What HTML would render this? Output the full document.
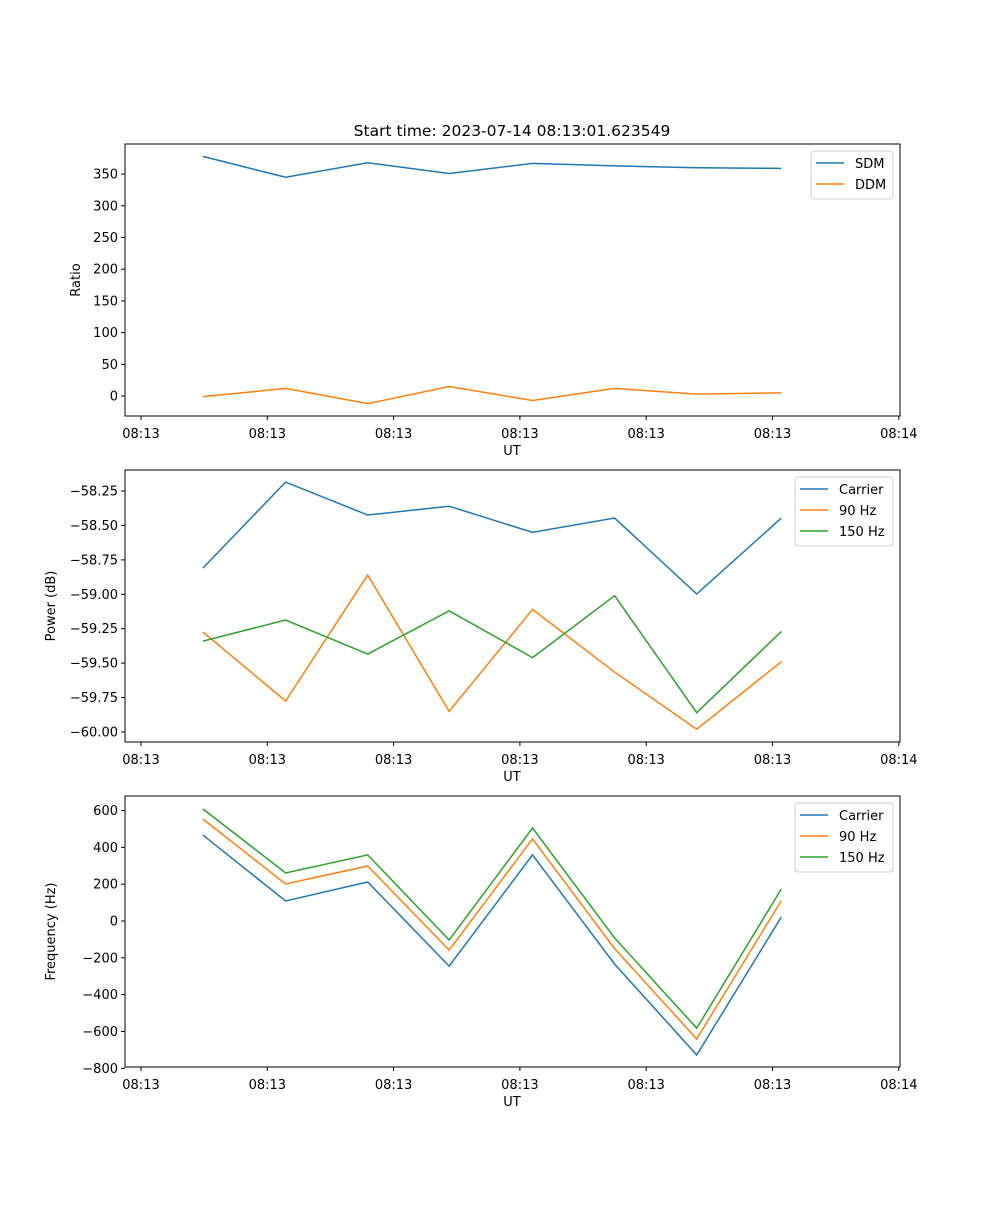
<!DOCTYPE html>
<html><head><meta charset="utf-8"><style>
body{margin:0;background:#fff}
svg text{font-family:"DejaVu Sans","Liberation Sans",sans-serif;font-size:13px;fill:#000}
</style></head><body>
<svg id="c" width="1000" height="1200" xmlns="http://www.w3.org/2000/svg">
<text x="512" y="136" text-anchor="middle" style="font-size:15.5px">Start time: 2023-07-14 08:13:01.623549</text>
</svg>
<script>
const times=[0.49,1.145,1.795,2.44,3.10,3.75,4.40,5.07];
const xTickLabels=["08:13","08:13","08:13","08:13","08:13","08:13","08:14"];
const sdm=[378,345,368,351,367,363,360,359];
const ddm=[-1,12,-12,15,-7,12,3,5];
const pCarrier=[-58.81,-58.185,-58.424,-58.36,-58.55,-58.446,-58.998,-58.446];
const p90=[-59.274,-59.775,-58.86,-59.85,-59.11,-59.565,-59.98,-59.49];
const p150=[-59.34,-59.187,-59.434,-59.12,-59.46,-59.01,-59.86,-59.27];
const fCarrier=[467,109,212,-245,359,-234,-728,22];
const f90=[554,201,299,-158,446,-150,-641,110];
const f150=[609,261,359,-103,505,-92,-582,174];
const ticks1=[0,50,100,150,200,250,300,350];
const ticks2=[-58.25,-58.5,-58.75,-59,-59.25,-59.5,-59.75,-60];
const ticks3=[600,400,200,0,-200,-400,-600,-800];
const svg=document.getElementById('c');
const NS='http://www.w3.org/2000/svg';
function mk(t,a){const e=document.createElementNS(NS,t);for(const k in a)e.setAttribute(k,a[k]);svg.appendChild(e);return e;}
const L=125,R=900;
function xs(t){return 141+t*126.3;}
function panel(top,bot,ymin,ymax,ticks,fmt,ylabel,series,legW,name){
  const ys=v=>bot-(v-ymin)/(ymax-ymin)*(bot-top);
  const g=mk('rect',{x:L,y:top,width:R-L,height:bot-top,fill:'none',stroke:'#000','stroke-width':1});
  
  
  xTickLabels.forEach((lb,i)=>{const x=xs(i);
    const l=mk('line',{x1:x,x2:x,y1:bot,y2:bot+4,stroke:'#000'});
    
    
    const t=mk('text',{x:x,y:bot+22,'text-anchor':'middle'});t.textContent=lb;
    
    });
  const xt=mk('text',{x:512,y:bot+39,'text-anchor':'middle'});xt.textContent='UT';
  
  
  ticks.forEach(v=>{const y=ys(v);
    const l=mk('line',{x1:L-4,x2:L,y1:y,y2:y,stroke:'#000'});
    
    
    const t=mk('text',{x:L-7,y:y+4.5,'text-anchor':'end'});t.textContent=fmt(v).replace('-','\u2212');
    
    });
  const yx=L-(ylabel==='Ratio'?45:70),yy=(top+bot)/2;
  const yt=mk('text',{x:yx,y:yy,'text-anchor':'middle',transform:`rotate(-90 ${yx} ${yy})`});yt.textContent=ylabel;
  
  
  series.forEach(s=>{
    const p=mk('polyline',{points:times.map((t,i)=>xs(t)+','+ys(s.v[i])).join(' '),fill:'none',stroke:s.c,'stroke-width':1.5});
    
    });
  const lx=R-7-legW,ly=top+7,lh=6+series.length*21;
  const lb=mk('rect',{x:lx,y:ly,width:legW,height:lh,rx:3,fill:'#fff','fill-opacity':0.8,stroke:'#ccc'});
  
  
  series.forEach((s,i)=>{const y=ly+12+i*21;
    const l=mk('line',{x1:lx+5,x2:lx+33,y1:y,y2:y,stroke:s.c,'stroke-width':1.5});
    
    
    const t=mk('text',{x:lx+44,y:y+5});t.textContent=s.n;
    
    });
}
const B='#1f77b4',O='#ff7f0e',G='#2ca02c';
panel(144,416,-31.5,397.5,ticks1,v=>String(v),'Ratio',[{n:'SDM',v:sdm,c:B},{n:'DDM',v:ddm,c:O}],82,'ratio-panel');
panel(470,742,-60.073,-58.097,ticks2,v=>v.toFixed(2),'Power (dB)',[{n:'Carrier',v:pCarrier,c:B},{n:'90 Hz',v:p90,c:O},{n:'150 Hz',v:p150,c:G}],98,'power-panel');
panel(796,1067,-793,679,ticks3,v=>String(v),'Frequency (Hz)',[{n:'Carrier',v:fCarrier,c:B},{n:'90 Hz',v:f90,c:O},{n:'150 Hz',v:f150,c:G}],98,'frequency-panel');
</script>
</body></html>
